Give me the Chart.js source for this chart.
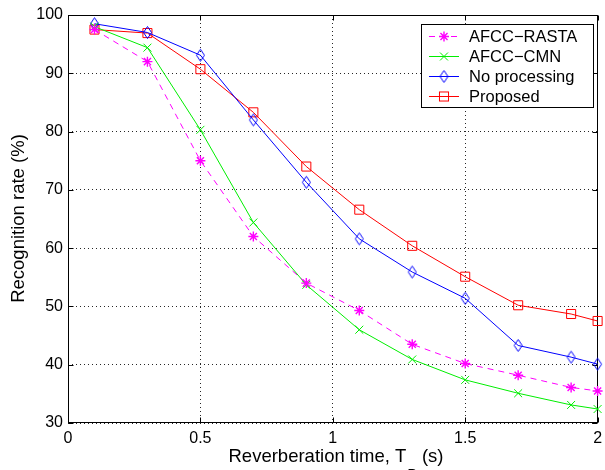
<!DOCTYPE html>
<html><head><meta charset="utf-8">
<script src="https://cdn.jsdelivr.net/npm/chart.js"></script>
<style>html,body{margin:0;padding:0;background:#fff;overflow:hidden}</style>
</head><body>
<canvas id="c" width="605" height="470"></canvas>
<script>
// ---- data ----
const reverbTimes   = [0.1, 0.3, 0.5, 0.7, 0.9, 1.1, 1.3, 1.5, 1.7, 1.9, 2.0];
const afccRasta     = [97.5, 92.0, 75.0, 62.0, 54.0, 49.3, 43.5, 40.2, 38.2, 36.1, 35.5];
const afccCmn       = [98.0, 94.4, 80.3, 64.4, 53.7, 46.0, 40.9, 37.4, 35.1, 33.1, 32.4];
const noProcessing  = [98.5, 97.0, 93.1, 82.0, 71.3, 61.6, 55.9, 51.4, 43.3, 41.3, 40.1];
const proposed      = [97.5, 96.9, 90.7, 83.3, 74.0, 66.6, 60.4, 55.1, 50.2, 48.7, 47.5];
const seriesNames   = ['AFCC\u2212RASTA', 'AFCC\u2212CMN', 'No processing', 'Proposed'];
const xTickValues   = [0, 0.5, 1, 1.5, 2];
const xTickLabels   = ['0', '0.5', '1', '1.5', '2'];
const yTickValues   = [30, 40, 50, 60, 70, 80, 90, 100];
const yTickLabels   = ['30', '40', '50', '60', '70', '80', '90', '100'];
const xTitleMain = 'Reverberation time, T';
const xTitleSub = 'R';
const xTitleEnd = ' (s)';
const yTitle = 'Recognition rate (%)';

const FONT = '"Liberation Sans", Arial, Helvetica, sans-serif';

function makeDiamond(color) {
  const c = document.createElement('canvas');
  c.width = 11; c.height = 15;
  const g = c.getContext('2d');
  g.strokeStyle = color; g.lineWidth = 1;
  g.beginPath();
  g.moveTo(5.5, 1.5); g.lineTo(9.5, 7.5); g.lineTo(5.5, 13.5); g.lineTo(1.5, 7.5);
  g.closePath(); g.stroke();
  return c;
}
const diamond = makeDiamond('#0000ff');

function pts(ys) { return reverbTimes.map((x, i) => ({ x: x, y: ys[i] })); }

const datasets = [
  { label: seriesNames[0], data: pts(afccRasta), borderColor: '#ff00ff', borderWidth: 1, borderDash: [6, 5],
    pointStyle: 'star', pointRadius: 5, pointBorderWidth: 1.4, pointBorderColor: '#ff00ff', pointBackgroundColor: 'transparent' },
  { label: seriesNames[1], data: pts(afccCmn), borderColor: '#00ee00', borderWidth: 1,
    pointStyle: 'crossRot', pointRadius: 5.6, pointBorderWidth: 1, pointBorderColor: '#00ee00', pointBackgroundColor: 'transparent' },
  { label: seriesNames[2], data: pts(noProcessing), borderColor: '#0000ff', borderWidth: 1,
    pointStyle: diamond, pointRadius: 6, pointBorderColor: '#0000ff', pointBackgroundColor: 'transparent' },
  { label: seriesNames[3], data: pts(proposed), borderColor: '#ff0000', borderWidth: 1,
    pointStyle: 'rect', pointRadius: 6.4, pointBorderWidth: 1, pointBorderColor: '#ff0000', pointBackgroundColor: 'transparent' }
];
datasets.forEach(d => { d.fill = false; d.tension = 0; d.clip = false; d.pointHoverRadius = d.pointRadius; });

function drawMarker(ctx, ds, x, y) {
  ctx.save();
  ctx.strokeStyle = ds.pointBorderColor;
  ctx.lineWidth = ds.pointBorderWidth || 1;
  ctx.setLineDash([]);
  const r = ds.pointRadius;
  const st = ds.pointStyle;
  if (typeof st === 'object') {
    ctx.drawImage(st, x - st.width / 2, y - st.height / 2);
  } else if (st === 'rect') {
    const s = Math.SQRT1_2 * r;
    ctx.strokeRect(x - s, y - s, 2 * s, 2 * s);
  } else if (st === 'crossRot' || st === 'star') {
    const o = Math.SQRT1_2 * r;
    ctx.beginPath();
    ctx.moveTo(x - o, y - o); ctx.lineTo(x + o, y + o);
    ctx.moveTo(x - o, y + o); ctx.lineTo(x + o, y - o);
    if (st === 'star') {
      ctx.moveTo(x, y - r); ctx.lineTo(x, y + r);
      ctx.moveTo(x - r, y); ctx.lineTo(x + r, y);
    }
    ctx.stroke();
  }
  ctx.restore();
}

const framePlugin = {
  id: 'frame',
  beforeDatasetsDraw(chart) {
    const { ctx, chartArea: a, scales } = chart;
    ctx.save();
    ctx.strokeStyle = '#000';
    ctx.lineWidth = 1;
    ctx.setLineDash([]);
    const L = Math.round(a.left) + 0.5, R = Math.round(a.right) - 0.5;
    const T = Math.round(a.top) + 0.5, B = Math.round(a.bottom) - 0.5;
    ctx.strokeRect(L, T, R - L, B - T);
    const tl = 5;
    ctx.beginPath();
    xTickValues.forEach(v => {
      const px = Math.round(scales.x.getPixelForValue(v)) + 0.5;
      ctx.moveTo(px, B); ctx.lineTo(px, B - tl);
      ctx.moveTo(px, T); ctx.lineTo(px, T + tl);
    });
    yTickValues.forEach(v => {
      const py = Math.round(scales.y.getPixelForValue(v)) + 0.5;
      ctx.moveTo(L, py); ctx.lineTo(L + tl, py);
      ctx.moveTo(R, py); ctx.lineTo(R - tl, py);
    });
    ctx.stroke();
    ctx.restore();
  },
  afterDatasetsDraw(chart) {
    const { ctx } = chart;
    // legend
    const bx = 421, by = 24, bw = 172, bh = 83;
    ctx.save();
    ctx.fillStyle = '#fff';
    ctx.fillRect(bx, by, bw, bh);
    ctx.strokeStyle = '#000';
    ctx.lineWidth = 1;
    ctx.setLineDash([]);
    ctx.strokeRect(bx + 0.5, by + 0.5, bw, bh);
    ctx.font = '16.5px ' + FONT;
    ctx.textBaseline = 'middle';
    ctx.textAlign = 'left';
    datasets.forEach((ds, i) => {
      const y = by + 12 + i * 20;
      ctx.save();
      ctx.strokeStyle = ds.borderColor;
      ctx.lineWidth = 1;
      ctx.setLineDash(ds.borderDash || []);
      ctx.beginPath();
      ctx.moveTo(429, y + 0.5); ctx.lineTo(459, y + 0.5);
      ctx.stroke();
      ctx.restore();
      drawMarker(ctx, ds, 444, y + 0.5);
      ctx.fillStyle = '#000';
      ctx.fillText(ds.label, 469, y + 1);
    });
    ctx.restore();
  },
  afterDraw(chart) {
    const { ctx } = chart;
    ctx.save();
    ctx.fillStyle = '#000';
    // x title with subscript
    const mainFont = '18.5px ' + FONT, subFont = '13px ' + FONT;
    ctx.font = mainFont; const wa = ctx.measureText(xTitleMain).width; const wb = ctx.measureText(xTitleEnd).width;
    ctx.font = subFont; const ws = ctx.measureText(xTitleSub).width;
    let x0 = 335.5 - (wa + ws + wb) / 2;
    const base = 461.5;
    ctx.textBaseline = 'alphabetic'; ctx.textAlign = 'left';
    ctx.font = mainFont; ctx.fillText(xTitleMain, x0, base);
    ctx.font = subFont; ctx.fillText(xTitleSub, x0 + wa + 1, base + 16);
    ctx.font = mainFont; ctx.fillText(xTitleEnd, x0 + wa + ws + 1, base);
    // y title
    ctx.translate(23.5, 218.5);
    ctx.rotate(-Math.PI / 2);
    ctx.textAlign = 'center';
    ctx.font = mainFont;
    ctx.fillText(yTitle, 0, 0);
    ctx.restore();
  }
};

new Chart(document.getElementById('c'), {
  type: 'line',
  data: { datasets: datasets },
  plugins: [framePlugin],
  options: {
    responsive: false,
    animation: false,
    events: [],
    layout: { padding: { top: 15, right: 2, left: 0, bottom: 0 } },
    plugins: { legend: { display: false }, tooltip: { enabled: false }, title: { display: false } },
    scales: {
      x: {
        type: 'linear', min: 0, max: 2,
        afterBuildTicks: s => { s.ticks = xTickValues.map(v => ({ value: v })); },
        afterFit: s => { s.height = 47; s.paddingLeft = 0; s.paddingRight = 0; },
        ticks: { callback: (v, i) => xTickLabels[i], color: '#000', font: { family: FONT, size: 16 }, padding: 6, maxRotation: 0, autoSkip: false },
        grid: { color: 'rgba(0,0,0,0.85)', lineWidth: 1, drawTicks: false },
        border: { display: false, dash: [1, 3] }
      },
      y: {
        type: 'linear', min: 30, max: 100,
        afterBuildTicks: s => { s.ticks = yTickValues.map(v => ({ value: v })); },
        afterFit: s => { s.width = 68; s.paddingTop = 0; s.paddingBottom = 0; },
        ticks: { callback: (v, i) => yTickLabels[i], color: '#000', font: { family: FONT, size: 16 }, padding: 5, autoSkip: false },
        grid: { color: 'rgba(0,0,0,0.85)', lineWidth: 1, drawTicks: false },
        border: { display: false, dash: [1, 3] }
      }
    }
  }
});
</script>
</body></html>
